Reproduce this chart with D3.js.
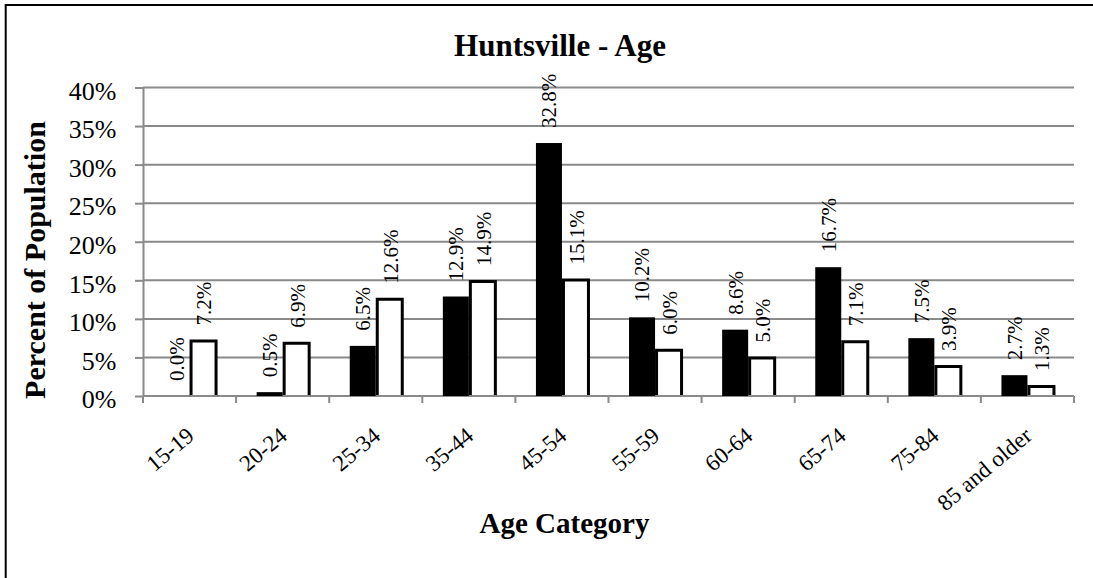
<!DOCTYPE html>
<html>
<head>
<meta charset="utf-8">
<script src="https://cdn.jsdelivr.net/npm/d3@7"></script>
<style>
  html, body { margin: 0; padding: 0; background: #fff; }
  svg { display: block; font-family: "Liberation Serif", "Times New Roman", serif; }
</style>
</head>
<body>
<svg id="chart" width="1093" height="578"></svg>
<script>
// Age distribution, Huntsville: two series per age bracket
const categories = ["15-19", "20-24", "25-34", "35-44", "45-54", "55-59", "60-64", "65-74", "75-84", "85 and older"];
const seriesA = [0.0, 0.5, 6.5, 12.9, 32.8, 10.2, 8.6, 16.7, 7.5, 2.7];   // solid black bars
const seriesB = [7.2, 6.9, 12.6, 14.9, 15.1, 6.0, 5.0, 7.1, 3.9, 1.3];    // white outlined bars
const yTicks = [0, 5, 10, 15, 20, 25, 30, 35, 40];

const svg = d3.select("#chart");
const W = 1093, H = 578;
const plot = { left: 143, right: 1074, top: 87.5, bottom: 396 };
const gridColor = "#8a8a8a";

svg.append("rect").attr("width", W).attr("height", H).attr("fill", "#fff");

// outer chart frame (only the top and left edges fall inside the canvas)
svg.append("rect")
  .attr("x", 5.7).attr("y", 5).attr("width", 2000).attr("height", 2000)
  .attr("fill", "none").attr("stroke", "#000").attr("stroke-width", 2);

const x0 = d3.scaleBand().domain(categories).range([plot.left, plot.right]).paddingInner(0).paddingOuter(0);
const x1 = d3.scaleBand().domain(["a", "b"]).range([0, x0.bandwidth()]).paddingInner(0).paddingOuter(0.79);
const y = d3.scaleLinear().domain([0, 40]).range([plot.bottom, plot.top]);

// horizontal gridlines
svg.append("g").selectAll("line")
  .data(yTicks.filter(d => d > 0))
  .join("line")
  .attr("x1", plot.left).attr("x2", plot.right)
  .attr("y1", d => y(d)).attr("y2", d => y(d))
  .attr("stroke", gridColor).attr("stroke-width", 2);

// y axis
const yAxis = svg.append("g")
  .attr("transform", `translate(${plot.left},0)`)
  .call(d3.axisLeft(y).tickValues(yTicks).tickSize(8).tickSizeOuter(0).tickFormat(d => d + "%"));
yAxis.attr("font-family", "Liberation Serif");
yAxis.select(".domain").attr("stroke", gridColor).attr("stroke-width", 2);
yAxis.selectAll(".tick line").attr("stroke", gridColor).attr("stroke-width", 2);
yAxis.selectAll(".tick text")
  .attr("x", -26.5).attr("dy", "0.45em")
  .attr("font-size", 26).attr("fill", "#000");

// x axis baseline and category boundary ticks
svg.append("line")
  .attr("x1", plot.left).attr("x2", plot.right)
  .attr("y1", plot.bottom).attr("y2", plot.bottom)
  .attr("stroke", gridColor).attr("stroke-width", 2);
const boundaries = categories.map(c => x0(c)).concat([x0(categories[categories.length - 1]) + x0.bandwidth()]);
svg.append("g").selectAll("line")
  .data(boundaries)
  .join("line")
  .attr("x1", d => d).attr("x2", d => d)
  .attr("y1", plot.bottom).attr("y2", plot.bottom + 7)
  .attr("stroke", gridColor).attr("stroke-width", 2);

// category labels, slanted
svg.append("g").selectAll("text")
  .data(categories)
  .join("text")
  .attr("transform", d => `translate(${x0(d) + x0.bandwidth() / 2 + 6},438) rotate(-40)`)
  .attr("text-anchor", "end")
  .attr("font-size", 23)
  .attr("fill", "#000")
  .text(d => d);

// bars: series A (black)
const barsA = svg.append("g");
barsA.selectAll("rect")
  .data(categories.map((c, i) => ({ c, v: seriesA[i] })))
  .join("rect")
  .attr("x", d => x0(d.c) + x1("a"))
  .attr("width", x1.bandwidth())
  .attr("y", d => y(d.v))
  .attr("height", d => y(0) - y(d.v))
  .attr("fill", "#000");

// bars: series B (white with heavy outline, open at the baseline)
const barsB = svg.append("g");
const dataB = categories.map((c, i) => ({ c, v: seriesB[i] }));
barsB.selectAll("rect")
  .data(dataB)
  .join("rect")
  .attr("x", d => x0(d.c) + x1("b") + 1.5)
  .attr("width", x1.bandwidth() - 1)
  .attr("y", d => y(d.v) + 0.5)
  .attr("height", d => y(0) - y(d.v) - 0.5)
  .attr("fill", "#fff");
barsB.selectAll("path")
  .data(dataB)
  .join("path")
  .attr("d", d => {
    const xl = x0(d.c) + x1("b") + 1.5, xr = xl + x1.bandwidth() - 1;
    const yt = y(d.v) + 0.5, yb = y(0);
    return `M${xl},${yb}V${yt}H${xr}V${yb}`;
  })
  .attr("fill", "none").attr("stroke", "#000").attr("stroke-width", 3)
  .attr("stroke-linejoin", "miter");
barsB.selectAll("line")
  .data(dataB)
  .join("line")
  .attr("x1", d => x0(d.c) + x1("b")).attr("x2", d => x0(d.c) + x1("b") + x1.bandwidth() + 2)
  .attr("y1", plot.bottom).attr("y2", plot.bottom)
  .attr("stroke", gridColor).attr("stroke-width", 2);

// value labels, vertical above each bar
function valueLabels(data, key) {
  svg.append("g").selectAll("text")
    .data(data)
    .join("text")
    .attr("transform", d => `translate(${x0(d.c) + x1(key) + x1.bandwidth() / 2 + (key === "b" ? 1.5 : 0)},${y(d.v) - 15}) rotate(-90)`)
    .attr("dy", "0.35em")
    .attr("text-anchor", "start")
    .attr("font-size", 21)
    .attr("fill", "#000")
    .text(d => d.v.toFixed(1) + "%");
}
valueLabels(categories.map((c, i) => ({ c, v: seriesA[i] })), "a");
valueLabels(dataB, "b");

// titles
svg.append("text")
  .attr("x", 560).attr("y", 56)
  .attr("text-anchor", "middle")
  .attr("font-weight", "bold").attr("font-size", 31)
  .text("Huntsville - Age");

svg.append("text")
  .attr("x", 564.5).attr("y", 533)
  .attr("text-anchor", "middle")
  .attr("font-weight", "bold").attr("font-size", 29)
  .text("Age Category");

svg.append("text")
  .attr("transform", "translate(45,260) rotate(-90)")
  .attr("text-anchor", "middle")
  .attr("font-weight", "bold").attr("font-size", 30)
  .text("Percent of Population");
</script>
</body>
</html>
